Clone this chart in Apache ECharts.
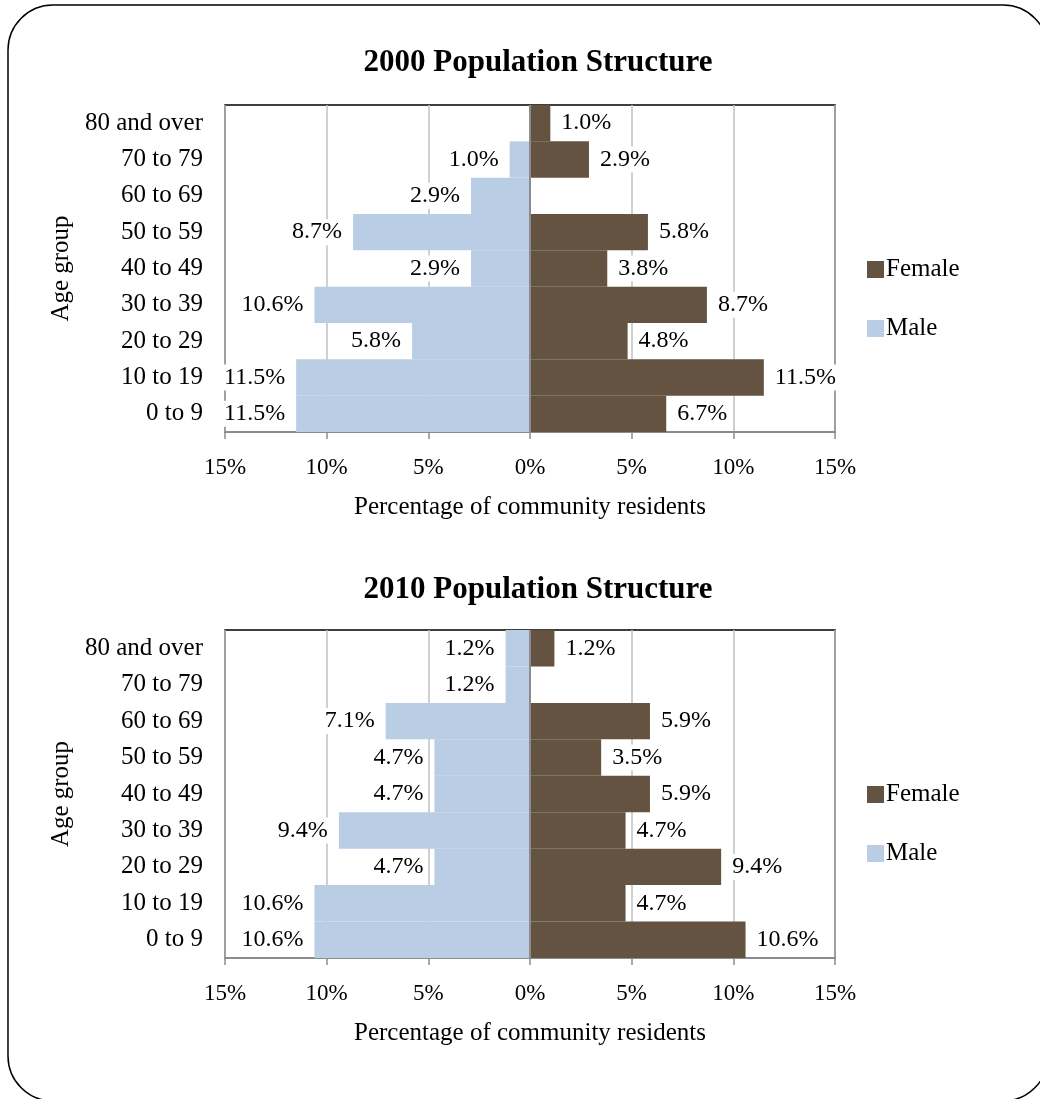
<!DOCTYPE html>
<html>
<head>
<meta charset="utf-8">
<script src="https://cdn.jsdelivr.net/npm/echarts@6/dist/echarts.min.js"></script>
<style>
html,body{margin:0;padding:0;background:#fff;}
#chart{width:1040px;height:1099px;}
</style>
</head>
<body>
<div id="chart"></div>
<script>
const categories = ['0 to 9','10 to 19','20 to 29','30 to 39','40 to 49','50 to 59','60 to 69','70 to 79','80 and over'];
const male2000   = [11.5, 11.5, 5.8, 10.6, 2.9, 8.7, 2.9, 1.0, 0];
const female2000 = [6.7, 11.5, 4.8, 8.7, 3.8, 5.8, 0, 2.9, 1.0];
const male2010   = [10.6, 10.6, 4.7, 9.4, 4.7, 4.7, 7.1, 1.2, 1.2];
const female2010 = [10.6, 4.7, 9.4, 4.7, 5.9, 3.5, 5.9, 0, 1.2];
const titles = ['2000 Population Structure', '2010 Population Structure'];

const FONT = 'Liberation Serif';
const MALE = '#b9cde5';
const FEMALE = '#635340';

function mkData(arr, sign) {
  return arr.map(v => v === 0 ? { value: 0, label: { show: false } } : { value: sign * v });
}
const lbl = (pos) => ({
  show: true, position: pos, distance: 8,
  fontFamily: FONT, fontSize: 24, color: '#000',
  backgroundColor: '#fff', padding: [1, 3],
  formatter: p => Math.abs(p.value).toFixed(1) + '%'
});

const grids = [
  { left: 225, top: 105, width: 610, height: 327 },
  { left: 225, top: 630, width: 610, height: 328 }
];
const maleSets = [male2000, male2010];
const femaleSets = [female2000, female2010];

const option = {
  animation: false,
  backgroundColor: '#fff',
  title: titles.map((t, i) => ({
    text: t, left: 533, top: i === 0 ? 42 : 569, textAlign: 'center',
    textStyle: { fontFamily: FONT, fontSize: 31, fontWeight: 'bold', color: '#000' }
  })),
  legend: [252, 777].map(top => ({
    data: ['Female', 'Male'], orient: 'vertical', left: 862, top: top,
    itemWidth: 17, itemHeight: 17, itemGap: 34, icon: 'rect',
    textStyle: { fontFamily: FONT, fontSize: 25, color: '#000', padding: [0, 0, 0, -3] }
  })),
  grid: grids.map(g => Object.assign({ show: true, borderColor: '#000', borderWidth: 1.5, backgroundColor: 'transparent' }, g)),
  xAxis: grids.map((g, i) => ({
    type: 'value', gridIndex: i, min: -15, max: 15, interval: 5,
    name: 'Percentage of community residents', nameLocation: 'middle', nameGap: 63,
    nameTextStyle: { fontFamily: FONT, fontSize: 25, color: '#000' },
    axisLine: { show: true, onZero: false, lineStyle: { color: '#8c8c8c', width: 2 } },
    axisTick: { show: true, length: 7, lineStyle: { color: '#8c8c8c', width: 1.5 } },
    splitLine: { show: true, lineStyle: { color: '#c0c0c0', width: 1.5 } },
    axisLabel: { fontFamily: FONT, fontSize: 23, color: '#000', margin: 24,
      formatter: v => Math.abs(v) + '%' }
  })),
  yAxis: grids.map((g, i) => ({
    type: 'category', gridIndex: i, data: categories,
    name: 'Age group', nameLocation: 'middle', nameGap: 150, nameRotate: 90,
    nameTextStyle: { fontFamily: FONT, fontSize: 25, color: '#000' },
    axisLine: { show: false }, axisTick: { show: false },
    axisLabel: { fontFamily: FONT, fontSize: 25, color: '#000', margin: 22 }
  })),
  series: []
};
for (let i = 0; i < 2; i++) {
  option.series.push({
    name: 'Male', type: 'bar', xAxisIndex: i, yAxisIndex: i,
    data: mkData(maleSets[i], -1), barCategoryGap: 0, barGap: '-100%',
    itemStyle: { color: MALE }, label: lbl('left'), z: 2,
    markLine: { silent: true, symbol: 'none', label: { show: false },
      lineStyle: { color: '#8c8c8c', width: 2, type: 'solid' }, data: [{ xAxis: 0 }] }
  });
  option.series.push({
    name: 'Female', type: 'bar', xAxisIndex: i, yAxisIndex: i,
    data: mkData(femaleSets[i], 1), barCategoryGap: 0, barGap: '-100%',
    itemStyle: { color: FEMALE }, label: lbl('right'), z: 2
  });
}
option.graphic = [{
  type: 'rect', shape: { x: 8, y: 5, width: 1040, height: 1096, r: 45 },
  style: { fill: 'none', stroke: '#000', lineWidth: 1.5 }, z: -10, silent: true
}];

const chart = echarts.init(document.getElementById('chart'), null, { renderer: 'canvas' });
chart.setOption(option);
</script>
</body>
</html>
